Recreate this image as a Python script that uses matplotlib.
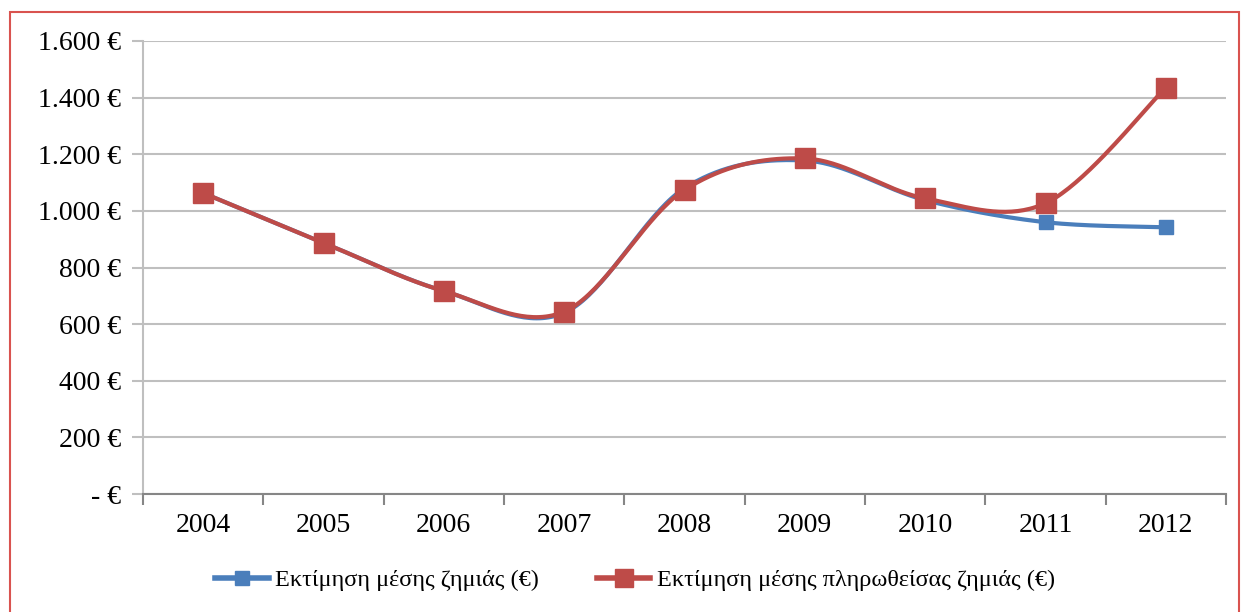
import numpy as np
import matplotlib.pyplot as plt
from matplotlib.patches import Rectangle
from matplotlib.lines import Line2D

years = ["2004", "2005", "2006", "2007", "2008", "2009", "2010", "2011", "2012"]
avg_loss = [1063, 887, 717, 640, 1080, 1178, 1038, 960, 942]
avg_paid_loss = [1063, 887, 717, 644, 1074, 1185, 1044, 1027, 1435]
y_ticks = [0, 200, 400, 600, 800, 1000, 1200, 1400, 1600]
y_labels = ["- €", "200 €", "400 €", "600 €", "800 €", "1.000 €", "1.200 €", "1.400 €", "1.600 €"]
names = ["Εκτίμηση μέσης ζημιάς (€)", "Εκτίμηση μέσης πληρωθείσας ζημιάς (€)"]

blue = "#4A7EBB"
red = "#BE4B48"
grid_c = "#BFBFBF"

plt.rcParams['font.family'] = ['Liberation Serif', 'DejaVu Serif']


def smooth(ys, n=40):
    # excel-like smoothed line: bezier through points, tangents from neighbours
    x = np.arange(len(ys), dtype=float)
    y = np.asarray(ys, dtype=float)
    px = np.concatenate([[x[0]], x, [x[-1]]])
    py = np.concatenate([[y[0]], y, [y[-1]]])
    xs, yv = [], []
    t = np.linspace(0, 1, n)
    for i in range(1, len(px) - 2):
        p0 = np.array([px[i], py[i]])
        p3 = np.array([px[i + 1], py[i + 1]])
        p1 = p0 + (p3 - np.array([px[i - 1], py[i - 1]])) / 6
        p2 = p3 - (np.array([px[i + 2], py[i + 2]]) - p0) / 6
        b = ((1 - t) ** 3)[:, None] * p0 + (3 * (1 - t) ** 2 * t)[:, None] * p1 \
            + (3 * (1 - t) * t ** 2)[:, None] * p2 + (t ** 3)[:, None] * p3
        xs.extend(b[:, 0])
        yv.extend(b[:, 1])
    return xs, yv


fig = plt.figure(figsize=(12.45, 6.12), dpi=100)
fig.patches.append(Rectangle((10 / 1245, -0.05), 1229 / 1245, 1.05 - 12 / 612,
                             transform=fig.transFigure, fill=False,
                             edgecolor="#D9534F", lw=1.5))
ax = fig.add_axes([143 / 1245, 1 - 494 / 612, 1083 / 1245, 453 / 612])

x = np.arange(len(years))
sx, sy = smooth(avg_loss)
ax.plot(sx, sy, color=blue, lw=3, zorder=3, solid_capstyle="round")
ax.plot(x, avg_loss, ls="none", marker="s", ms=10.5, color=blue, zorder=4)
sx, sy = smooth(avg_paid_loss)
ax.plot(sx, sy, color=red, lw=3, zorder=5, solid_capstyle="round")
ax.plot(x, avg_paid_loss, ls="none", marker="s", ms=14, color=red, zorder=6)

ax.set_xlim(-0.5, len(years) - 0.5)
ax.set_ylim(0, 1600)
ax.set_yticks(y_ticks)
ax.set_yticklabels(y_labels, fontsize=20)
ax.set_xticks(x)
ax.set_xticklabels(years, fontsize=20)
ax.set_xticks(np.arange(-0.5, len(years)), minor=True)
ax.tick_params(axis="x", which="major", length=0, pad=14)
ax.tick_params(axis="x", which="minor", length=8, width=1.5, color="#868686", direction="out")
ax.tick_params(axis="y", length=8, width=1.5, color=grid_c, pad=8)
ax.grid(axis="y", color=grid_c, lw=1.5)
ax.set_axisbelow(True)
for s in ["top", "right"]:
    ax.spines[s].set_visible(False)
ax.spines["left"].set_color(grid_c)
ax.spines["left"].set_linewidth(1.5)
ax.spines["bottom"].set_color("#868686")
ax.spines["bottom"].set_linewidth(1.5)

handles = [Line2D([], [], color=blue, lw=4, marker="s", ms=10.5),
           Line2D([], [], color=red, lw=4, marker="s", ms=13)]
fig.legend(handles, names, loc="center", bbox_to_anchor=(0.51, 1 - 580 / 612),
           ncol=2, frameon=False, fontsize=17.5, handlelength=2.2, handletextpad=0.25,
           columnspacing=2.4)

fig.savefig("out.png", dpi=100)
